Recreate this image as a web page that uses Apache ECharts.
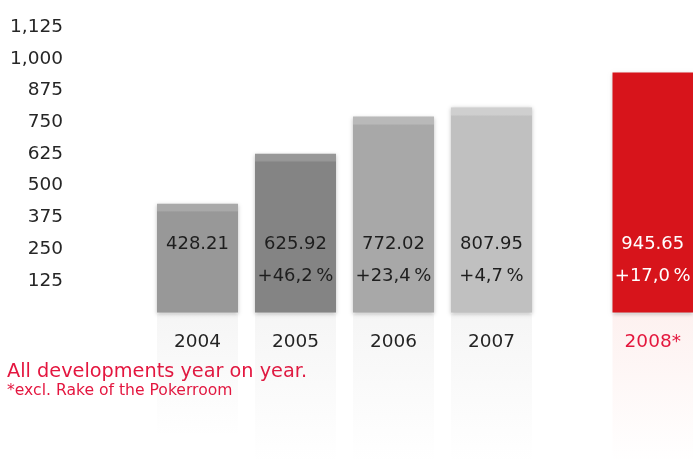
<!DOCTYPE html>
<html>
<head>
<meta charset="utf-8">
<script src="https://cdn.jsdelivr.net/npm/echarts@6/dist/echarts.min.js"></script>
<style>
  html, body { margin: 0; padding: 0; background: #fff; }
  #chart { width: 693px; height: 463px; }
</style>
</head>
<body>
<div id="chart"></div>
<script>
// Revenue by year, with year-on-year change
const years = ['2004', '2005', '2006', '2007'];
const values = [428.21, 625.92, 772.02, 807.95];
const changes = ['', '+46,2\u2009%', '+23,4\u2009%', '+4,7\u2009%'];

const highlightYear = ['2008*'];
const highlightValue = [945.65];
const highlightChange = ['+17,0\u2009%'];

const yTicks = { min: 0, max: 1125, interval: 125 };

const footnote1 = 'All developments year on year.';
const footnote2 = '*excl. Rake of the Pokerroom';

// body / cap colours of the grey columns
const bodyColors = ['#989898', '#848484', '#a8a8a8', '#c0c0c0'];
const capColors = ['#a9a9a9', '#979797', '#b9b9b9', '#cfcfcf'];
const red = '#d7141b';
const crimson = '#e4163f';

const FONT = '"DejaVu Sans", Verdana, sans-serif';
const TOP = 27, BOTTOM = 150.5;
const plotH = 463 - TOP - BOTTOM;

function capGradient(value, body, cap) {
  const h = value / yTicks.max * plotH;
  const c = Math.min(0.5, 7 / h);
  return new echarts.graphic.LinearGradient(0, 0, 0, 1, [
    { offset: 0, color: cap },
    { offset: c, color: cap },
    { offset: c + 0.01, color: body },
    { offset: 1, color: body }
  ]);
}

function valueLabel(val, chg) {
  return '{v|' + val.toFixed(2) + '}\n{p|' + (chg || ' ') + '}';
}

const chart = echarts.init(document.getElementById('chart'), null, { renderer: 'canvas' });

const richDark = {
  v: { fontSize: 18, fontFamily: FONT, color: '#1e1e1e', lineHeight: 32 },
  p: { fontSize: 18, fontFamily: FONT, color: '#1e1e1e', lineHeight: 32 }
};
const richLight = {
  v: { fontSize: 18, fontFamily: FONT, color: '#ffffff', lineHeight: 32 },
  p: { fontSize: 18, fontFamily: FONT, color: '#ffffff', lineHeight: 32 }
};

const reflectGradient = (rgb) => new echarts.graphic.LinearGradient(0, 0, 0, 1, [
  { offset: 0, color: 'rgba(' + rgb + ',0.07)' },
  { offset: 1, color: 'rgba(' + rgb + ',0)' }
]);

chart.setOption({
  animation: false,
  backgroundColor: '#ffffff',
  grid: [
    { left: 148.5, width: 392, top: TOP, bottom: BOTTOM },
    { left: 612.5, width: 81, top: TOP, bottom: BOTTOM },
    { left: 148.5, width: 392, top: 314, bottom: 0 },
    { left: 612.5, width: 81, top: 314, bottom: 0 }
  ],
  xAxis: [
    {
      gridIndex: 0, type: 'category', data: years,
      axisLine: { show: false }, axisTick: { show: false },
      axisLabel: { margin: 20, fontSize: 18.5, fontFamily: FONT, color: '#1e1e1e' }
    },
    {
      gridIndex: 1, type: 'category', data: highlightYear,
      axisLine: { show: false }, axisTick: { show: false },
      axisLabel: { margin: 20, fontSize: 18.5, fontFamily: FONT, color: crimson }
    },
    { gridIndex: 2, type: 'category', data: years, show: false },
    { gridIndex: 3, type: 'category', data: highlightYear, show: false }
  ],
  yAxis: [
    {
      gridIndex: 0, type: 'value', min: yTicks.min, max: yTicks.max, interval: yTicks.interval,
      axisLine: { show: false }, axisTick: { show: false }, splitLine: { show: false },
      axisLabel: {
        margin: 85.5, fontSize: 18.5, fontFamily: FONT, color: '#262626',
        formatter: (v) => v === 0 ? '' : v.toLocaleString('en-US')
      }
    },
    {
      gridIndex: 1, type: 'value', min: yTicks.min, max: yTicks.max, interval: yTicks.interval,
      show: false
    },
    { gridIndex: 2, type: 'value', min: 0, max: 520, inverse: true, show: false },
    { gridIndex: 3, type: 'value', min: 0, max: 520, inverse: true, show: false }
  ],
  series: [
    {
      type: 'bar', xAxisIndex: 0, yAxisIndex: 0, barWidth: 81,
      data: values.map((v, i) => ({
        value: v,
        itemStyle: {
          color: capGradient(v, bodyColors[i], capColors[i]),
          shadowBlur: 4, shadowColor: 'rgba(0,0,0,0.25)', shadowOffsetY: 1
        },
        label: {
          show: true, position: 'insideBottom', distance: 20,
          formatter: valueLabel(v, changes[i]), rich: richDark
        }
      }))
    },
    {
      type: 'bar', xAxisIndex: 1, yAxisIndex: 1, barWidth: 81,
      data: highlightValue.map((v, i) => ({
        value: v,
        itemStyle: {
          color: red,
          shadowBlur: 4, shadowColor: 'rgba(0,0,0,0.25)', shadowOffsetY: 1
        },
        label: {
          show: true, position: 'insideBottom', distance: 20,
          formatter: valueLabel(v, highlightChange[i]), rich: richLight
        }
      }))
    },
    // faint mirrored columns beneath the bars
    {
      type: 'bar', xAxisIndex: 2, yAxisIndex: 2, barWidth: 81, silent: true,
      data: values, itemStyle: { color: reflectGradient('120,120,120') }
    },
    {
      type: 'bar', xAxisIndex: 3, yAxisIndex: 3, barWidth: 81, silent: true,
      data: highlightValue, itemStyle: { color: reflectGradient('230,60,40') }
    }
  ],
  graphic: [
    {
      type: 'text', left: 7, top: 362,
      style: { text: footnote1, fontSize: 19.3, fontFamily: FONT, fill: crimson }
    },
    {
      type: 'text', left: 7, top: 383,
      style: { text: footnote2, fontSize: 15.6, fontFamily: FONT, fill: crimson }
    }
  ]
});
</script>
</body>
</html>
